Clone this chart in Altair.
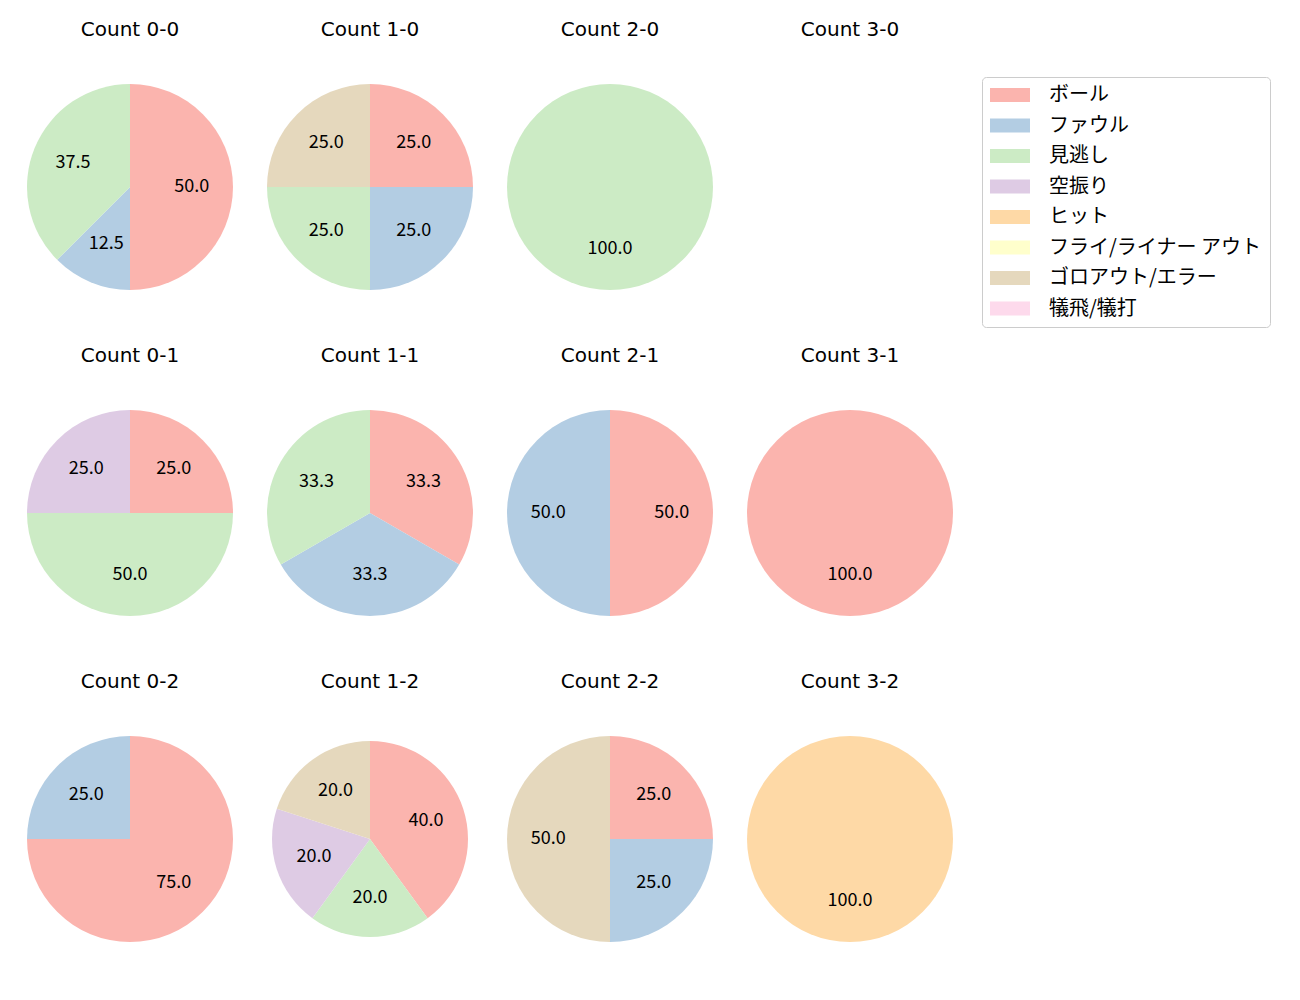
import altair as alt
import pandas as pd

categories = ["ボール", "ファウル", "見逃し", "空振り", "ヒット",
              "フライ/ライナー アウト", "ゴロアウト/エラー", "犠飛/犠打"]
colors = ["#fbb4ae", "#b3cde3", "#ccebc5", "#decbe4", "#fed9a6",
          "#ffffcc", "#e5d8bd", "#fddaec"]

# percentages per category (category order above) for each count
count_names = ["0-0", "1-0", "2-0", "3-0",
               "0-1", "1-1", "2-1", "3-1",
               "0-2", "1-2", "2-2", "3-2"]
pct_0_0 = [50.0, 12.5, 37.5, 0, 0, 0, 0, 0]
pct_1_0 = [25.0, 25.0, 25.0, 0, 0, 0, 25.0, 0]
pct_2_0 = [0, 0, 100.0, 0, 0, 0, 0, 0]
pct_3_0 = [0, 0, 0, 0, 0, 0, 0, 0]
pct_0_1 = [25.0, 0, 50.0, 25.0, 0, 0, 0, 0]
pct_1_1 = [33.3, 33.3, 33.3, 0, 0, 0, 0, 0]
pct_2_1 = [50.0, 50.0, 0, 0, 0, 0, 0, 0]
pct_3_1 = [100.0, 0, 0, 0, 0, 0, 0, 0]
pct_0_2 = [75.0, 25.0, 0, 0, 0, 0, 0, 0]
pct_1_2 = [40.0, 0, 20.0, 20.0, 0, 0, 20.0, 0]
pct_2_2 = [25.0, 25.0, 0, 0, 0, 0, 50.0, 0]
pct_3_2 = [0, 0, 0, 0, 100.0, 0, 0, 0]
all_pcts = [pct_0_0, pct_1_0, pct_2_0, pct_3_0,
            pct_0_1, pct_1_1, pct_2_1, pct_3_1,
            pct_0_2, pct_1_2, pct_2_2, pct_3_2]
radii = [103, 103, 103, 103, 103, 103, 103, 103, 103, 98, 103, 103]

FONT = "Noto Sans CJK JP"
TITLE_FONT = "DejaVu Sans"
W = 234
H = 234

color_scale = alt.Scale(domain=categories, range=colors)


def panel(i, name, pcts, r):
    rows = [(c, k, p) for k, (c, p) in enumerate(zip(categories, pcts)) if p > 0]
    df = pd.DataFrame(rows, columns=["cat", "idx", "pct"])
    legend = alt.Legend(
        title=None, orient="none", legendX=969, legendY=7,
        symbolType="M-2,-0.7H2V0.7H-2Z", symbolSize=400, symbolOffset=10,
        symbolStrokeWidth=0, symbolOpacity=1,
        labelFont=FONT, labelFontSize=20, labelColor="#000000",
        labelOffset=29, rowPadding=10.5, labelLimit=0,
        strokeColor="#cccccc", cornerRadius=4, padding=8, fillColor="white",
    )
    base = alt.Chart(df).encode(
        theta=alt.Theta("pct:Q", stack="normalize"),
        order=alt.Order("idx:Q"),
    )
    arcs = base.mark_arc(outerRadius=r).encode(
        color=alt.Color("cat:N", scale=color_scale, legend=legend)
    )
    labels = base.mark_text(radius=r * 0.6, font=FONT, fontSize=18, color="black").encode(
        text=alt.Text("pct:Q", format=".1f")
    )
    return alt.layer(arcs, labels).properties(
        width=W, height=H,
        title=alt.TitleParams(f"Count {name}", font=TITLE_FONT, fontSize=20,
                              fontWeight="normal", color="black",
                              anchor="middle", offset=30, limit=0),
    )


panels = [panel(i, n, p, r) for i, (n, p, r) in enumerate(zip(count_names, all_pcts, radii))]
rows = [alt.hconcat(*panels[k * 4:(k + 1) * 4], spacing=6) for k in range(3)]
chart = alt.vconcat(*rows, spacing=42).resolve_scale(color="shared").configure_view(
    stroke=None
).properties(padding={"top": 12, "left": 5, "right": 5, "bottom": 5})

chart.save("out.html", embed_options={"renderer": "svg", "actions": False})
